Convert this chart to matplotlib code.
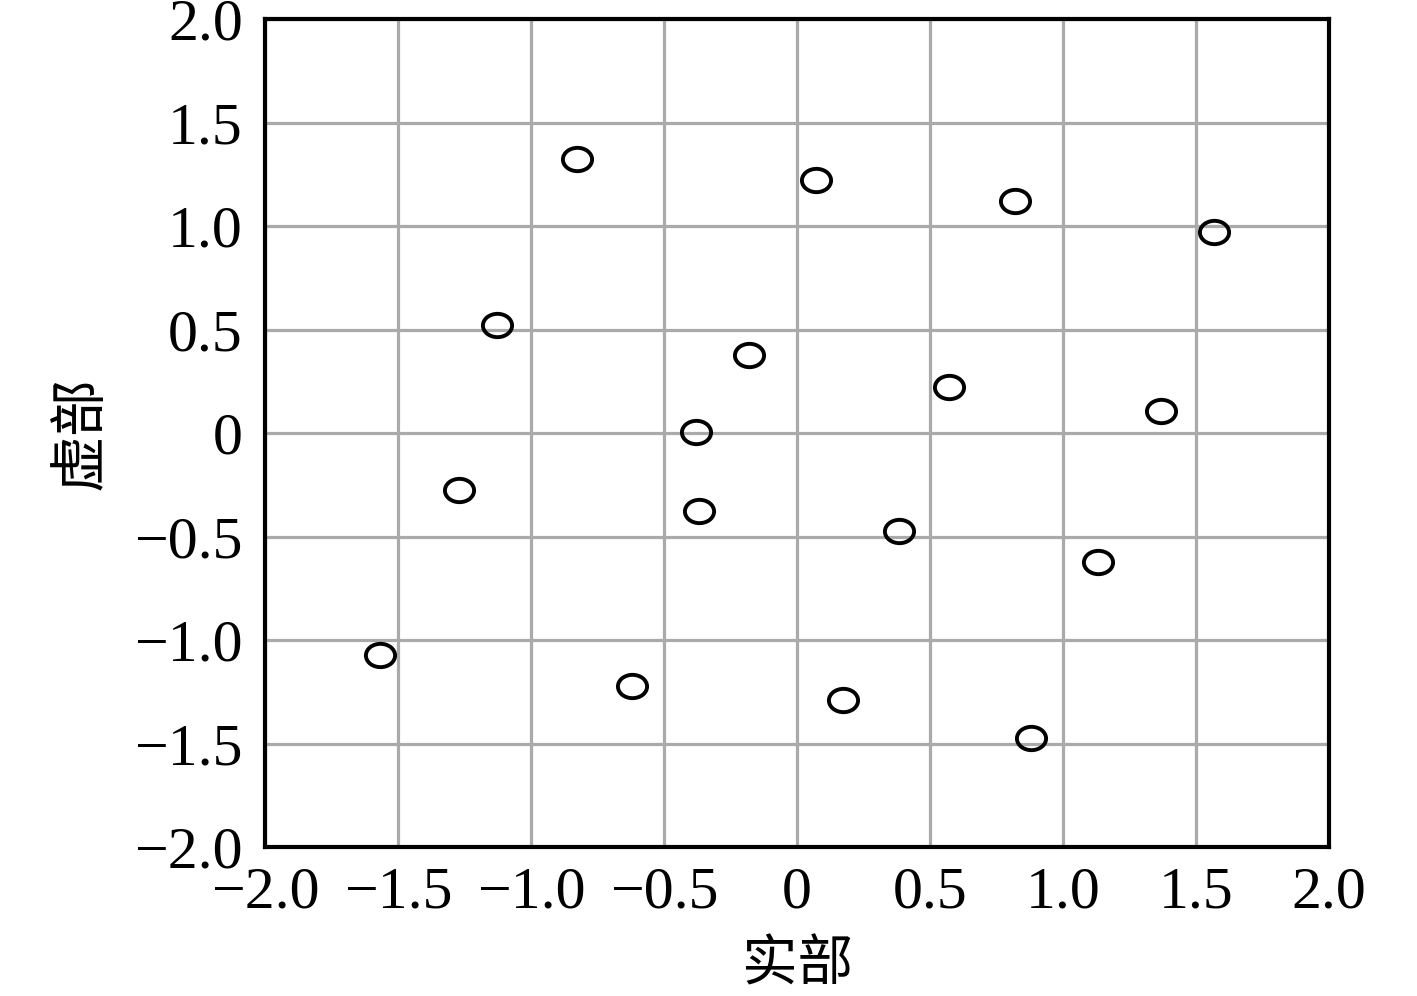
import matplotlib
matplotlib.use("Agg")
import matplotlib.pyplot as plt
from matplotlib.path import Path
from matplotlib.transforms import Affine2D

real_part = [-0.827, 0.071, 0.820, 1.568, -1.128, -0.180, 0.571, 1.368, -0.380,
             -1.271, -0.368, 0.383, 1.132, -1.568, -0.620, 0.173, 0.880]
imag_part = [1.324, 1.222, 1.120, 0.971, 0.522, 0.377, 0.222, 0.106, 0.005,
             -0.275, -0.377, -0.473, -0.623, -1.072, -1.222, -1.290, -1.473]
ticks = [-2.0, -1.5, -1.0, -0.5, 0.0, 0.5, 1.0, 1.5, 2.0]
tick_labels = ["\u22122.0", "\u22121.5", "\u22121.0", "\u22120.5", "0", "0.5", "1.0", "1.5", "2.0"]

plt.rcParams['font.family'] = ['Liberation Serif', 'Noto Sans CJK SC', 'DejaVu Sans']

fig = plt.figure(figsize=(14.17, 9.96), dpi=100)
ax = fig.add_axes([0.187, 0.1496, 0.751, 0.8313])

ell = Path.unit_circle().transformed(Affine2D().scale(1.0, 0.8))
ax.plot(real_part, imag_part, linestyle='none', marker=ell, markersize=21,
        markerfacecolor='none', markeredgecolor='black', markeredgewidth=2.8, zorder=5)

ax.set_xlim(-2, 2)
ax.set_ylim(-2, 2)
ax.set_xticks(ticks)
ax.set_xticklabels(tick_labels)
ax.set_yticks(ticks)
ax.set_yticklabels(tick_labels)
ax.tick_params(length=0, labelsize=43)
ax.tick_params(axis='x', pad=14)
ax.tick_params(axis='y', pad=16)
ax.grid(True, color='#aaaaaa', linewidth=2.3)
ax.set_axisbelow(True)
for s in ax.spines.values():
    s.set_linewidth(3)
    s.set_color('black')
    s.set_zorder(6)

ax.set_xlabel("实部", fontsize=40, family=['Noto Sans CJK SC'], labelpad=11)
ax.set_ylabel("虚部", fontsize=41, family=['Noto Sans CJK SC'], labelpad=18)

fig.savefig("out.png", dpi=100)
